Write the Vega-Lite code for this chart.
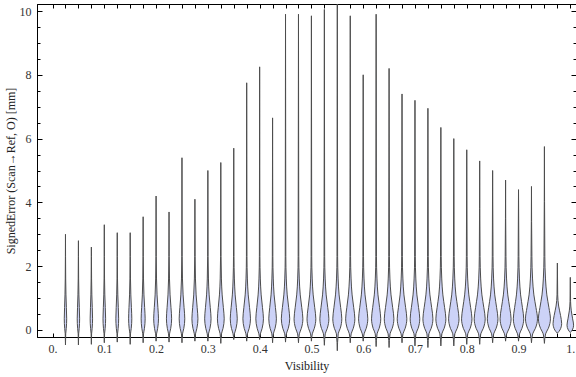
{
  "$schema": "https://vega.github.io/schema/vega-lite/v6.json",
  "width": 539,
  "height": 333,
  "autosize": {"type": "none"},
  "padding": {"left": 37, "top": 4, "right": 0, "bottom": 40},
  "background": "white",
  "config": {
    "view": {"stroke": "#000", "strokeWidth": 1},
    "axis": {
      "labelFont": "Liberation Serif", "labelFontSize": 12, "labelColor": "#333",
      "titleFont": "Liberation Serif", "titleFontSize": 12, "titleFontWeight": "normal", "titleColor": "#222",
      "domainColor": "#000", "tickColor": "#000", "grid": false, "labelOverlap": false, "labelFlush": false
    }
  },
  "data": {"values": [
    {"v":0.025,"y":-0.47,"a":0.025,"b":0.025},{"v":0.025,"y":-0.12,"a":0.02454,"b":0.02546},{"v":0.025,"y":0.05,"a":0.02349,"b":0.02651},{"v":0.025,"y":0.35,"a":0.02268,"b":0.02732},{"v":0.025,"y":0.7,"a":0.02326,"b":0.02674},{"v":0.025,"y":1.1,"a":0.02407,"b":0.02593},{"v":0.025,"y":1.6,"a":0.02458,"b":0.02542},{"v":0.025,"y":2.3,"a":0.02484,"b":0.02516},{"v":0.025,"y":3.0,"a":0.025,"b":0.025},
    {"v":0.05,"y":-0.47,"a":0.05,"b":0.05},{"v":0.05,"y":-0.12,"a":0.04954,"b":0.05046},{"v":0.05,"y":0.05,"a":0.04849,"b":0.05151},{"v":0.05,"y":0.35,"a":0.04768,"b":0.05232},{"v":0.05,"y":0.7,"a":0.04826,"b":0.05174},{"v":0.05,"y":1.1,"a":0.04907,"b":0.05093},{"v":0.05,"y":1.6,"a":0.04958,"b":0.05042},{"v":0.05,"y":2.3,"a":0.04984,"b":0.05016},{"v":0.05,"y":2.8,"a":0.05,"b":0.05},
    {"v":0.075,"y":-0.45,"a":0.075,"b":0.075},{"v":0.075,"y":-0.12,"a":0.07454,"b":0.07546},{"v":0.075,"y":0.05,"a":0.07349,"b":0.07651},{"v":0.075,"y":0.35,"a":0.07268,"b":0.07732},{"v":0.075,"y":0.7,"a":0.07326,"b":0.07674},{"v":0.075,"y":1.1,"a":0.07407,"b":0.07593},{"v":0.075,"y":1.6,"a":0.07458,"b":0.07542},{"v":0.075,"y":2.3,"a":0.07484,"b":0.07516},{"v":0.075,"y":2.6,"a":0.075,"b":0.075},
    {"v":0.1,"y":-0.4,"a":0.1,"b":0.1},{"v":0.1,"y":-0.12,"a":0.0995,"b":0.1005},{"v":0.1,"y":0.05,"a":0.09837,"b":0.10163},{"v":0.1,"y":0.35,"a":0.09749,"b":0.10251},{"v":0.1,"y":0.7,"a":0.09812,"b":0.10188},{"v":0.1,"y":1.1,"a":0.099,"b":0.101},{"v":0.1,"y":1.6,"a":0.09955,"b":0.10045},{"v":0.1,"y":2.3,"a":0.09982,"b":0.10018},{"v":0.1,"y":3.3,"a":0.1,"b":0.1},
    {"v":0.125,"y":-0.38,"a":0.125,"b":0.125},{"v":0.125,"y":-0.12,"a":0.12446,"b":0.12554},{"v":0.125,"y":0.05,"a":0.12324,"b":0.12676},{"v":0.125,"y":0.35,"a":0.1223,"b":0.1277},{"v":0.125,"y":0.7,"a":0.12297,"b":0.12703},{"v":0.125,"y":1.1,"a":0.12392,"b":0.12608},{"v":0.125,"y":1.6,"a":0.12451,"b":0.12549},{"v":0.125,"y":2.3,"a":0.12481,"b":0.12519},{"v":0.125,"y":3.05,"a":0.125,"b":0.125},
    {"v":0.15,"y":-0.45,"a":0.15,"b":0.15},{"v":0.15,"y":-0.12,"a":0.14938,"b":0.15062},{"v":0.15,"y":0.05,"a":0.14799,"b":0.15201},{"v":0.15,"y":0.35,"a":0.14691,"b":0.15309},{"v":0.15,"y":0.7,"a":0.14768,"b":0.15232},{"v":0.15,"y":1.1,"a":0.14876,"b":0.15124},{"v":0.15,"y":1.6,"a":0.14944,"b":0.15056},{"v":0.15,"y":2.3,"a":0.14978,"b":0.15022},{"v":0.15,"y":3.05,"a":0.15,"b":0.15},
    {"v":0.175,"y":-0.4,"a":0.175,"b":0.175},{"v":0.175,"y":-0.12,"a":0.17423,"b":0.17577},{"v":0.175,"y":0.05,"a":0.17249,"b":0.17751},{"v":0.175,"y":0.35,"a":0.17114,"b":0.17886},{"v":0.175,"y":0.7,"a":0.1721,"b":0.1779},{"v":0.175,"y":1.1,"a":0.17346,"b":0.17654},{"v":0.175,"y":1.6,"a":0.17431,"b":0.17569},{"v":0.175,"y":2.3,"a":0.17473,"b":0.17527},{"v":0.175,"y":3.55,"a":0.175,"b":0.175},
    {"v":0.2,"y":-0.35,"a":0.2,"b":0.2},{"v":0.2,"y":-0.12,"a":0.19907,"b":0.20093},{"v":0.2,"y":0.05,"a":0.19698,"b":0.20302},{"v":0.2,"y":0.35,"a":0.19536,"b":0.20464},{"v":0.2,"y":0.7,"a":0.19652,"b":0.20348},{"v":0.2,"y":1.1,"a":0.19814,"b":0.20186},{"v":0.2,"y":1.6,"a":0.19916,"b":0.20084},{"v":0.2,"y":2.3,"a":0.19968,"b":0.20032},{"v":0.2,"y":4.2,"a":0.2,"b":0.2},
    {"v":0.225,"y":-0.38,"a":0.225,"b":0.225},{"v":0.225,"y":-0.12,"a":0.224,"b":0.226},{"v":0.225,"y":0.05,"a":0.22174,"b":0.22826},{"v":0.225,"y":0.35,"a":0.21998,"b":0.23002},{"v":0.225,"y":0.7,"a":0.22123,"b":0.22877},{"v":0.225,"y":1.1,"a":0.22299,"b":0.22701},{"v":0.225,"y":1.6,"a":0.2241,"b":0.2259},{"v":0.225,"y":2.3,"a":0.22465,"b":0.22535},{"v":0.225,"y":3.7,"a":0.225,"b":0.225},
    {"v":0.25,"y":-0.4,"a":0.25,"b":0.25},{"v":0.25,"y":-0.12,"a":0.24892,"b":0.25108},{"v":0.25,"y":0.05,"a":0.24648,"b":0.25352},{"v":0.25,"y":0.35,"a":0.24459,"b":0.25541},{"v":0.25,"y":0.7,"a":0.24594,"b":0.25406},{"v":0.25,"y":1.1,"a":0.24784,"b":0.25216},{"v":0.25,"y":1.6,"a":0.24903,"b":0.25097},{"v":0.25,"y":2.3,"a":0.24962,"b":0.25038},{"v":0.25,"y":5.4,"a":0.25,"b":0.25},
    {"v":0.275,"y":-0.35,"a":0.275,"b":0.275},{"v":0.275,"y":-0.12,"a":0.27384,"b":0.27616},{"v":0.275,"y":0.05,"a":0.27123,"b":0.27877},{"v":0.275,"y":0.35,"a":0.2692,"b":0.2808},{"v":0.275,"y":0.7,"a":0.27065,"b":0.27935},{"v":0.275,"y":1.1,"a":0.27268,"b":0.27732},{"v":0.275,"y":1.6,"a":0.27396,"b":0.27604},{"v":0.275,"y":2.3,"a":0.27459,"b":0.27541},{"v":0.275,"y":4.1,"a":0.275,"b":0.275},
    {"v":0.3,"y":-0.35,"a":0.3,"b":0.3},{"v":0.3,"y":-0.12,"a":0.29876,"b":0.30124},{"v":0.3,"y":0.05,"a":0.29598,"b":0.30402},{"v":0.3,"y":0.35,"a":0.29382,"b":0.30618},{"v":0.3,"y":0.7,"a":0.29536,"b":0.30464},{"v":0.3,"y":1.1,"a":0.29753,"b":0.30247},{"v":0.3,"y":1.6,"a":0.29889,"b":0.30111},{"v":0.3,"y":2.3,"a":0.29957,"b":0.30043},{"v":0.3,"y":5.0,"a":0.3,"b":0.3},
    {"v":0.325,"y":-0.42,"a":0.325,"b":0.325},{"v":0.325,"y":-0.12,"a":0.32369,"b":0.32631},{"v":0.325,"y":0.05,"a":0.32073,"b":0.32927},{"v":0.325,"y":0.35,"a":0.31843,"b":0.33157},{"v":0.325,"y":0.7,"a":0.32007,"b":0.32993},{"v":0.325,"y":1.1,"a":0.32237,"b":0.32763},{"v":0.325,"y":1.6,"a":0.32382,"b":0.32618},{"v":0.325,"y":2.3,"a":0.32454,"b":0.32546},{"v":0.325,"y":5.25,"a":0.325,"b":0.325},
    {"v":0.35,"y":-0.3,"a":0.35,"b":0.35},{"v":0.35,"y":-0.12,"a":0.34865,"b":0.35135},{"v":0.35,"y":0.05,"a":0.34561,"b":0.35439},{"v":0.35,"y":0.35,"a":0.34324,"b":0.35676},{"v":0.35,"y":0.7,"a":0.34493,"b":0.35507},{"v":0.35,"y":1.1,"a":0.3473,"b":0.3527},{"v":0.35,"y":1.6,"a":0.34878,"b":0.35122},{"v":0.35,"y":2.3,"a":0.34953,"b":0.35047},{"v":0.35,"y":5.7,"a":0.35,"b":0.35},
    {"v":0.375,"y":-0.35,"a":0.375,"b":0.375},{"v":0.375,"y":-0.12,"a":0.37353,"b":0.37647},{"v":0.375,"y":0.05,"a":0.37023,"b":0.37977},{"v":0.375,"y":0.35,"a":0.36766,"b":0.38234},{"v":0.375,"y":0.7,"a":0.36949,"b":0.38051},{"v":0.375,"y":1.1,"a":0.37206,"b":0.37794},{"v":0.375,"y":1.6,"a":0.37368,"b":0.37632},{"v":0.375,"y":2.3,"a":0.37449,"b":0.37551},{"v":0.375,"y":7.75,"a":0.375,"b":0.375},
    {"v":0.4,"y":-0.3,"a":0.4,"b":0.4},{"v":0.4,"y":-0.12,"a":0.39853,"b":0.40147},{"v":0.4,"y":0.05,"a":0.39523,"b":0.40477},{"v":0.4,"y":0.35,"a":0.39266,"b":0.40734},{"v":0.4,"y":0.7,"a":0.39449,"b":0.40551},{"v":0.4,"y":1.1,"a":0.39706,"b":0.40294},{"v":0.4,"y":1.6,"a":0.39868,"b":0.40132},{"v":0.4,"y":2.3,"a":0.39949,"b":0.40051},{"v":0.4,"y":8.25,"a":0.4,"b":0.4},
    {"v":0.425,"y":-0.4,"a":0.425,"b":0.425},{"v":0.425,"y":-0.12,"a":0.42353,"b":0.42647},{"v":0.425,"y":0.05,"a":0.42023,"b":0.42977},{"v":0.425,"y":0.35,"a":0.41766,"b":0.43234},{"v":0.425,"y":0.7,"a":0.41949,"b":0.43051},{"v":0.425,"y":1.1,"a":0.42206,"b":0.42794},{"v":0.425,"y":1.6,"a":0.42368,"b":0.42632},{"v":0.425,"y":2.3,"a":0.42449,"b":0.42551},{"v":0.425,"y":6.65,"a":0.425,"b":0.425},
    {"v":0.45,"y":-0.38,"a":0.45,"b":0.45},{"v":0.45,"y":-0.12,"a":0.44838,"b":0.45162},{"v":0.45,"y":0.05,"a":0.44473,"b":0.45527},{"v":0.45,"y":0.35,"a":0.44189,"b":0.45811},{"v":0.45,"y":0.7,"a":0.44392,"b":0.45608},{"v":0.45,"y":1.1,"a":0.44676,"b":0.45324},{"v":0.45,"y":1.6,"a":0.44854,"b":0.45146},{"v":0.45,"y":2.3,"a":0.44943,"b":0.45057},{"v":0.45,"y":9.9,"a":0.45,"b":0.45},
    {"v":0.475,"y":-0.4,"a":0.475,"b":0.475},{"v":0.475,"y":-0.12,"a":0.4733,"b":0.4767},{"v":0.475,"y":0.05,"a":0.46947,"b":0.48053},{"v":0.475,"y":0.35,"a":0.4665,"b":0.4835},{"v":0.475,"y":0.7,"a":0.46862,"b":0.48138},{"v":0.475,"y":1.1,"a":0.4716,"b":0.4784},{"v":0.475,"y":1.6,"a":0.47347,"b":0.47653},{"v":0.475,"y":2.3,"a":0.4744,"b":0.4756},{"v":0.475,"y":9.9,"a":0.475,"b":0.475},
    {"v":0.5,"y":-0.35,"a":0.5,"b":0.5},{"v":0.5,"y":-0.12,"a":0.4983,"b":0.5017},{"v":0.5,"y":0.05,"a":0.49447,"b":0.50553},{"v":0.5,"y":0.35,"a":0.4915,"b":0.5085},{"v":0.5,"y":0.7,"a":0.49362,"b":0.50638},{"v":0.5,"y":1.1,"a":0.4966,"b":0.5034},{"v":0.5,"y":1.6,"a":0.49847,"b":0.50153},{"v":0.5,"y":2.3,"a":0.4994,"b":0.5006},{"v":0.5,"y":9.85,"a":0.5,"b":0.5},
    {"v":0.525,"y":-0.48,"a":0.525,"b":0.525},{"v":0.525,"y":-0.12,"a":0.52326,"b":0.52674},{"v":0.525,"y":0.05,"a":0.51935,"b":0.53065},{"v":0.525,"y":0.35,"a":0.51631,"b":0.53369},{"v":0.525,"y":0.7,"a":0.51848,"b":0.53152},{"v":0.525,"y":1.1,"a":0.52152,"b":0.52848},{"v":0.525,"y":1.6,"a":0.52344,"b":0.52656},{"v":0.525,"y":2.3,"a":0.52439,"b":0.52561},{"v":0.525,"y":10.05,"a":0.525,"b":0.525},
    {"v":0.55,"y":-0.65,"a":0.55,"b":0.55},{"v":0.55,"y":-0.12,"a":0.54826,"b":0.55174},{"v":0.55,"y":0.05,"a":0.54435,"b":0.55565},{"v":0.55,"y":0.35,"a":0.54131,"b":0.55869},{"v":0.55,"y":0.7,"a":0.54348,"b":0.55652},{"v":0.55,"y":1.1,"a":0.54652,"b":0.55348},{"v":0.55,"y":1.6,"a":0.54844,"b":0.55156},{"v":0.55,"y":2.3,"a":0.54939,"b":0.55061},{"v":0.55,"y":10.22,"a":0.55,"b":0.55},
    {"v":0.575,"y":-0.4,"a":0.575,"b":0.575},{"v":0.575,"y":-0.12,"a":0.57322,"b":0.57678},{"v":0.575,"y":0.05,"a":0.56922,"b":0.58078},{"v":0.575,"y":0.35,"a":0.56611,"b":0.58389},{"v":0.575,"y":0.7,"a":0.56833,"b":0.58167},{"v":0.575,"y":1.1,"a":0.57144,"b":0.57856},{"v":0.575,"y":1.6,"a":0.5734,"b":0.5766},{"v":0.575,"y":2.3,"a":0.57438,"b":0.57562},{"v":0.575,"y":9.85,"a":0.575,"b":0.575},
    {"v":0.6,"y":-0.35,"a":0.6,"b":0.6},{"v":0.6,"y":-0.12,"a":0.59822,"b":0.60178},{"v":0.6,"y":0.05,"a":0.59422,"b":0.60578},{"v":0.6,"y":0.35,"a":0.59111,"b":0.60889},{"v":0.6,"y":0.7,"a":0.59333,"b":0.60667},{"v":0.6,"y":1.1,"a":0.59644,"b":0.60356},{"v":0.6,"y":1.6,"a":0.5984,"b":0.6016},{"v":0.6,"y":2.3,"a":0.59938,"b":0.60062},{"v":0.6,"y":8.0,"a":0.6,"b":0.6},
    {"v":0.625,"y":-0.52,"a":0.625,"b":0.625},{"v":0.625,"y":-0.12,"a":0.62322,"b":0.62678},{"v":0.625,"y":0.05,"a":0.61922,"b":0.63078},{"v":0.625,"y":0.35,"a":0.61611,"b":0.63389},{"v":0.625,"y":0.7,"a":0.61833,"b":0.63167},{"v":0.625,"y":1.1,"a":0.62144,"b":0.62856},{"v":0.625,"y":1.6,"a":0.6234,"b":0.6266},{"v":0.625,"y":2.3,"a":0.62438,"b":0.62562},{"v":0.625,"y":9.9,"a":0.625,"b":0.625},
    {"v":0.65,"y":-0.55,"a":0.65,"b":0.65},{"v":0.65,"y":-0.12,"a":0.64815,"b":0.65185},{"v":0.65,"y":0.05,"a":0.64397,"b":0.65603},{"v":0.65,"y":0.35,"a":0.64073,"b":0.65927},{"v":0.65,"y":0.7,"a":0.64305,"b":0.65695},{"v":0.65,"y":1.1,"a":0.64629,"b":0.65371},{"v":0.65,"y":1.6,"a":0.64833,"b":0.65167},{"v":0.65,"y":2.3,"a":0.64935,"b":0.65065},{"v":0.65,"y":8.2,"a":0.65,"b":0.65},
    {"v":0.675,"y":-0.4,"a":0.675,"b":0.675},{"v":0.675,"y":-0.12,"a":0.67315,"b":0.67685},{"v":0.675,"y":0.05,"a":0.66897,"b":0.68103},{"v":0.675,"y":0.35,"a":0.66573,"b":0.68427},{"v":0.675,"y":0.7,"a":0.66805,"b":0.68195},{"v":0.675,"y":1.1,"a":0.67129,"b":0.67871},{"v":0.675,"y":1.6,"a":0.67333,"b":0.67667},{"v":0.675,"y":2.3,"a":0.67435,"b":0.67565},{"v":0.675,"y":7.4,"a":0.675,"b":0.675},
    {"v":0.7,"y":-0.5,"a":0.7,"b":0.7},{"v":0.7,"y":-0.12,"a":0.69815,"b":0.70185},{"v":0.7,"y":0.05,"a":0.69397,"b":0.70603},{"v":0.7,"y":0.35,"a":0.69073,"b":0.70927},{"v":0.7,"y":0.7,"a":0.69305,"b":0.70695},{"v":0.7,"y":1.1,"a":0.69629,"b":0.70371},{"v":0.7,"y":1.6,"a":0.69833,"b":0.70167},{"v":0.7,"y":2.3,"a":0.69935,"b":0.70065},{"v":0.7,"y":7.2,"a":0.7,"b":0.7},
    {"v":0.725,"y":-0.55,"a":0.725,"b":0.725},{"v":0.725,"y":-0.12,"a":0.72307,"b":0.72693},{"v":0.725,"y":0.05,"a":0.71872,"b":0.73128},{"v":0.725,"y":0.35,"a":0.71534,"b":0.73466},{"v":0.725,"y":0.7,"a":0.71775,"b":0.73225},{"v":0.725,"y":1.1,"a":0.72114,"b":0.72886},{"v":0.725,"y":1.6,"a":0.72326,"b":0.72674},{"v":0.725,"y":2.3,"a":0.72432,"b":0.72568},{"v":0.725,"y":6.95,"a":0.725,"b":0.725},
    {"v":0.75,"y":-0.5,"a":0.75,"b":0.75},{"v":0.75,"y":-0.12,"a":0.74807,"b":0.75193},{"v":0.75,"y":0.05,"a":0.74372,"b":0.75628},{"v":0.75,"y":0.35,"a":0.74034,"b":0.75966},{"v":0.75,"y":0.7,"a":0.74275,"b":0.75725},{"v":0.75,"y":1.1,"a":0.74614,"b":0.75386},{"v":0.75,"y":1.6,"a":0.74826,"b":0.75174},{"v":0.75,"y":2.3,"a":0.74932,"b":0.75068},{"v":0.75,"y":6.35,"a":0.75,"b":0.75},
    {"v":0.775,"y":-0.5,"a":0.775,"b":0.775},{"v":0.775,"y":-0.12,"a":0.77299,"b":0.77701},{"v":0.775,"y":0.05,"a":0.76847,"b":0.78153},{"v":0.775,"y":0.35,"a":0.76495,"b":0.78505},{"v":0.775,"y":0.7,"a":0.76746,"b":0.78254},{"v":0.775,"y":1.1,"a":0.77098,"b":0.77902},{"v":0.775,"y":1.6,"a":0.77319,"b":0.77681},{"v":0.775,"y":2.3,"a":0.7743,"b":0.7757},{"v":0.775,"y":6.0,"a":0.775,"b":0.775},
    {"v":0.8,"y":-0.45,"a":0.8,"b":0.8},{"v":0.8,"y":-0.12,"a":0.79799,"b":0.80201},{"v":0.8,"y":0.05,"a":0.79347,"b":0.80653},{"v":0.8,"y":0.35,"a":0.78995,"b":0.81005},{"v":0.8,"y":0.7,"a":0.79246,"b":0.80754},{"v":0.8,"y":1.1,"a":0.79598,"b":0.80402},{"v":0.8,"y":1.6,"a":0.79819,"b":0.80181},{"v":0.8,"y":2.3,"a":0.7993,"b":0.8007},{"v":0.8,"y":5.65,"a":0.8,"b":0.8},
    {"v":0.825,"y":-0.45,"a":0.825,"b":0.825},{"v":0.825,"y":-0.12,"a":0.82287,"b":0.82713},{"v":0.825,"y":0.05,"a":0.81809,"b":0.83191},{"v":0.825,"y":0.35,"a":0.81437,"b":0.83563},{"v":0.825,"y":0.7,"a":0.81703,"b":0.83297},{"v":0.825,"y":1.1,"a":0.82075,"b":0.82925},{"v":0.825,"y":1.6,"a":0.82309,"b":0.82691},{"v":0.825,"y":2.3,"a":0.82426,"b":0.82574},{"v":0.825,"y":5.3,"a":0.825,"b":0.825},
    {"v":0.85,"y":-0.4,"a":0.85,"b":0.85},{"v":0.85,"y":-0.12,"a":0.84795,"b":0.85205},{"v":0.85,"y":0.05,"a":0.84334,"b":0.85666},{"v":0.85,"y":0.35,"a":0.83976,"b":0.86024},{"v":0.85,"y":0.7,"a":0.84232,"b":0.85768},{"v":0.85,"y":1.1,"a":0.8459,"b":0.8541},{"v":0.85,"y":1.6,"a":0.84816,"b":0.85184},{"v":0.85,"y":2.3,"a":0.84928,"b":0.85072},{"v":0.85,"y":5.0,"a":0.85,"b":0.85},
    {"v":0.875,"y":-0.35,"a":0.875,"b":0.875},{"v":0.875,"y":-0.12,"a":0.87287,"b":0.87713},{"v":0.875,"y":0.05,"a":0.86809,"b":0.88191},{"v":0.875,"y":0.35,"a":0.86437,"b":0.88563},{"v":0.875,"y":0.7,"a":0.86703,"b":0.88297},{"v":0.875,"y":1.1,"a":0.87075,"b":0.87925},{"v":0.875,"y":1.6,"a":0.87309,"b":0.87691},{"v":0.875,"y":2.3,"a":0.87426,"b":0.87574},{"v":0.875,"y":4.7,"a":0.875,"b":0.875},
    {"v":0.9,"y":-0.35,"a":0.9,"b":0.9},{"v":0.9,"y":-0.12,"a":0.89799,"b":0.90201},{"v":0.9,"y":0.05,"a":0.89347,"b":0.90653},{"v":0.9,"y":0.35,"a":0.88995,"b":0.91005},{"v":0.9,"y":0.7,"a":0.89246,"b":0.90754},{"v":0.9,"y":1.1,"a":0.89598,"b":0.90402},{"v":0.9,"y":1.6,"a":0.89819,"b":0.90181},{"v":0.9,"y":2.3,"a":0.8993,"b":0.9007},{"v":0.9,"y":4.4,"a":0.9,"b":0.9},
    {"v":0.925,"y":-0.4,"a":0.925,"b":0.925},{"v":0.925,"y":-0.12,"a":0.92268,"b":0.92732},{"v":0.925,"y":0.05,"a":0.91747,"b":0.93253},{"v":0.925,"y":0.35,"a":0.91341,"b":0.93659},{"v":0.925,"y":0.7,"a":0.91631,"b":0.93369},{"v":0.925,"y":1.1,"a":0.92036,"b":0.92964},{"v":0.925,"y":1.6,"a":0.92291,"b":0.92709},{"v":0.925,"y":2.3,"a":0.92419,"b":0.92581},{"v":0.925,"y":4.5,"a":0.925,"b":0.925},
    {"v":0.95,"y":-0.42,"a":0.95,"b":0.95},{"v":0.95,"y":-0.12,"a":0.94768,"b":0.95232},{"v":0.95,"y":0.05,"a":0.94247,"b":0.95753},{"v":0.95,"y":0.35,"a":0.93841,"b":0.96159},{"v":0.95,"y":0.7,"a":0.94131,"b":0.95869},{"v":0.95,"y":1.1,"a":0.94536,"b":0.95464},{"v":0.95,"y":1.6,"a":0.94791,"b":0.95209},{"v":0.95,"y":2.3,"a":0.94919,"b":0.95081},{"v":0.95,"y":5.75,"a":0.95,"b":0.95},
    {"v":0.975,"y":-0.1,"a":0.975,"b":0.975},{"v":0.975,"y":0.0,"a":0.97001,"b":0.97999},{"v":0.975,"y":0.2,"a":0.96669,"b":0.98331},{"v":0.975,"y":0.45,"a":0.96877,"b":0.98123},{"v":0.975,"y":0.75,"a":0.97251,"b":0.97749},{"v":0.975,"y":1.1,"a":0.97434,"b":0.97566},{"v":0.975,"y":2.1,"a":0.975,"b":0.975},
    {"v":1.0,"y":-0.08,"a":1.0,"b":1.0},{"v":1.0,"y":0.0,"a":0.99617,"b":1.00383},{"v":1.0,"y":0.15,"a":0.99362,"b":1.00638},{"v":1.0,"y":0.35,"a":0.99553,"b":1.00447},{"v":1.0,"y":0.6,"a":0.99809,"b":1.00191},{"v":1.0,"y":0.9,"a":0.99949,"b":1.00051},{"v":1.0,"y":1.65,"a":1.0,"b":1.0}
  ]},
  "layer": [
    {
      "mark": {"type": "area", "orient": "horizontal", "interpolate": "monotone", "fill": "#ccd2f7", "fillOpacity": 1, "stroke": "#4d4d4d", "strokeWidth": 1, "strokeJoin": "round", "clip": false},
      "encoding": {
        "y": {"field": "y", "type": "quantitative",
              "scale": {"domain": [-0.22, 10.22], "nice": false, "zero": false},
              "axis": {"orient": "left", "title": "SignedError (Scan→Ref, O) [mm]",
                       "values": [0,0.5,1,1.5,2,2.5,3,3.5,4,4.5,5,5.5,6,6.5,7,7.5,8,8.5,9,9.5,10],
                       "labelExpr": "datum.value % 2 === 0 ? format(datum.value, 'd') : ''",
                       "tickSize": {"condition": {"test": "datum.value % 2 === 0", "value": -5}, "value": -3},
                       "labelPadding": 11, "titlePadding": 2}},
        "x": {"field": "a", "type": "quantitative",
              "scale": {"domain": [-0.03, 1.011], "nice": false, "zero": false},
              "axis": {"orient": "bottom", "title": "Visibility",
                       "values": [0,0.025,0.05,0.075,0.1,0.125,0.15,0.175,0.2,0.225,0.25,0.275,0.3,0.325,0.35,0.375,0.4,0.425,0.45,0.475,0.5,0.525,0.55,0.575,0.6,0.625,0.65,0.675,0.7,0.725,0.75,0.775,0.8,0.825,0.85,0.875,0.9,0.925,0.95,0.975,1],
                       "labelExpr": "round(datum.value*40) % 4 === 0 ? (datum.value === 0 ? '0.' : (datum.value === 1 ? '1.' : format(datum.value, '.1f'))) : ''",
                       "tickSize": -4, "labelPadding": 10, "titlePadding": 6}},
        "x2": {"field": "b"},
        "detail": {"field": "v", "type": "nominal"}
      }
    },
    {
      "mark": {"type": "point", "opacity": 0},
      "encoding": {
        "y": {"field": "y", "type": "quantitative",
              "axis": {"orient": "right", "title": null, "labels": false,
                       "values": [0,0.5,1,1.5,2,2.5,3,3.5,4,4.5,5,5.5,6,6.5,7,7.5,8,8.5,9,9.5,10],
                       "tickSize": {"condition": {"test": "datum.value % 2 === 0", "value": -5}, "value": -3}}},
        "x": {"field": "v", "type": "quantitative",
              "axis": {"orient": "top", "title": null, "labels": false,
                       "values": [0,0.025,0.05,0.075,0.1,0.125,0.15,0.175,0.2,0.225,0.25,0.275,0.3,0.325,0.35,0.375,0.4,0.425,0.45,0.475,0.5,0.525,0.55,0.575,0.6,0.625,0.65,0.675,0.7,0.725,0.75,0.775,0.8,0.825,0.85,0.875,0.9,0.925,0.95,0.975,1],
                       "tickSize": -4}}
      }
    }
  ],
  "resolve": {"axis": {"x": "independent", "y": "independent"}}
}
